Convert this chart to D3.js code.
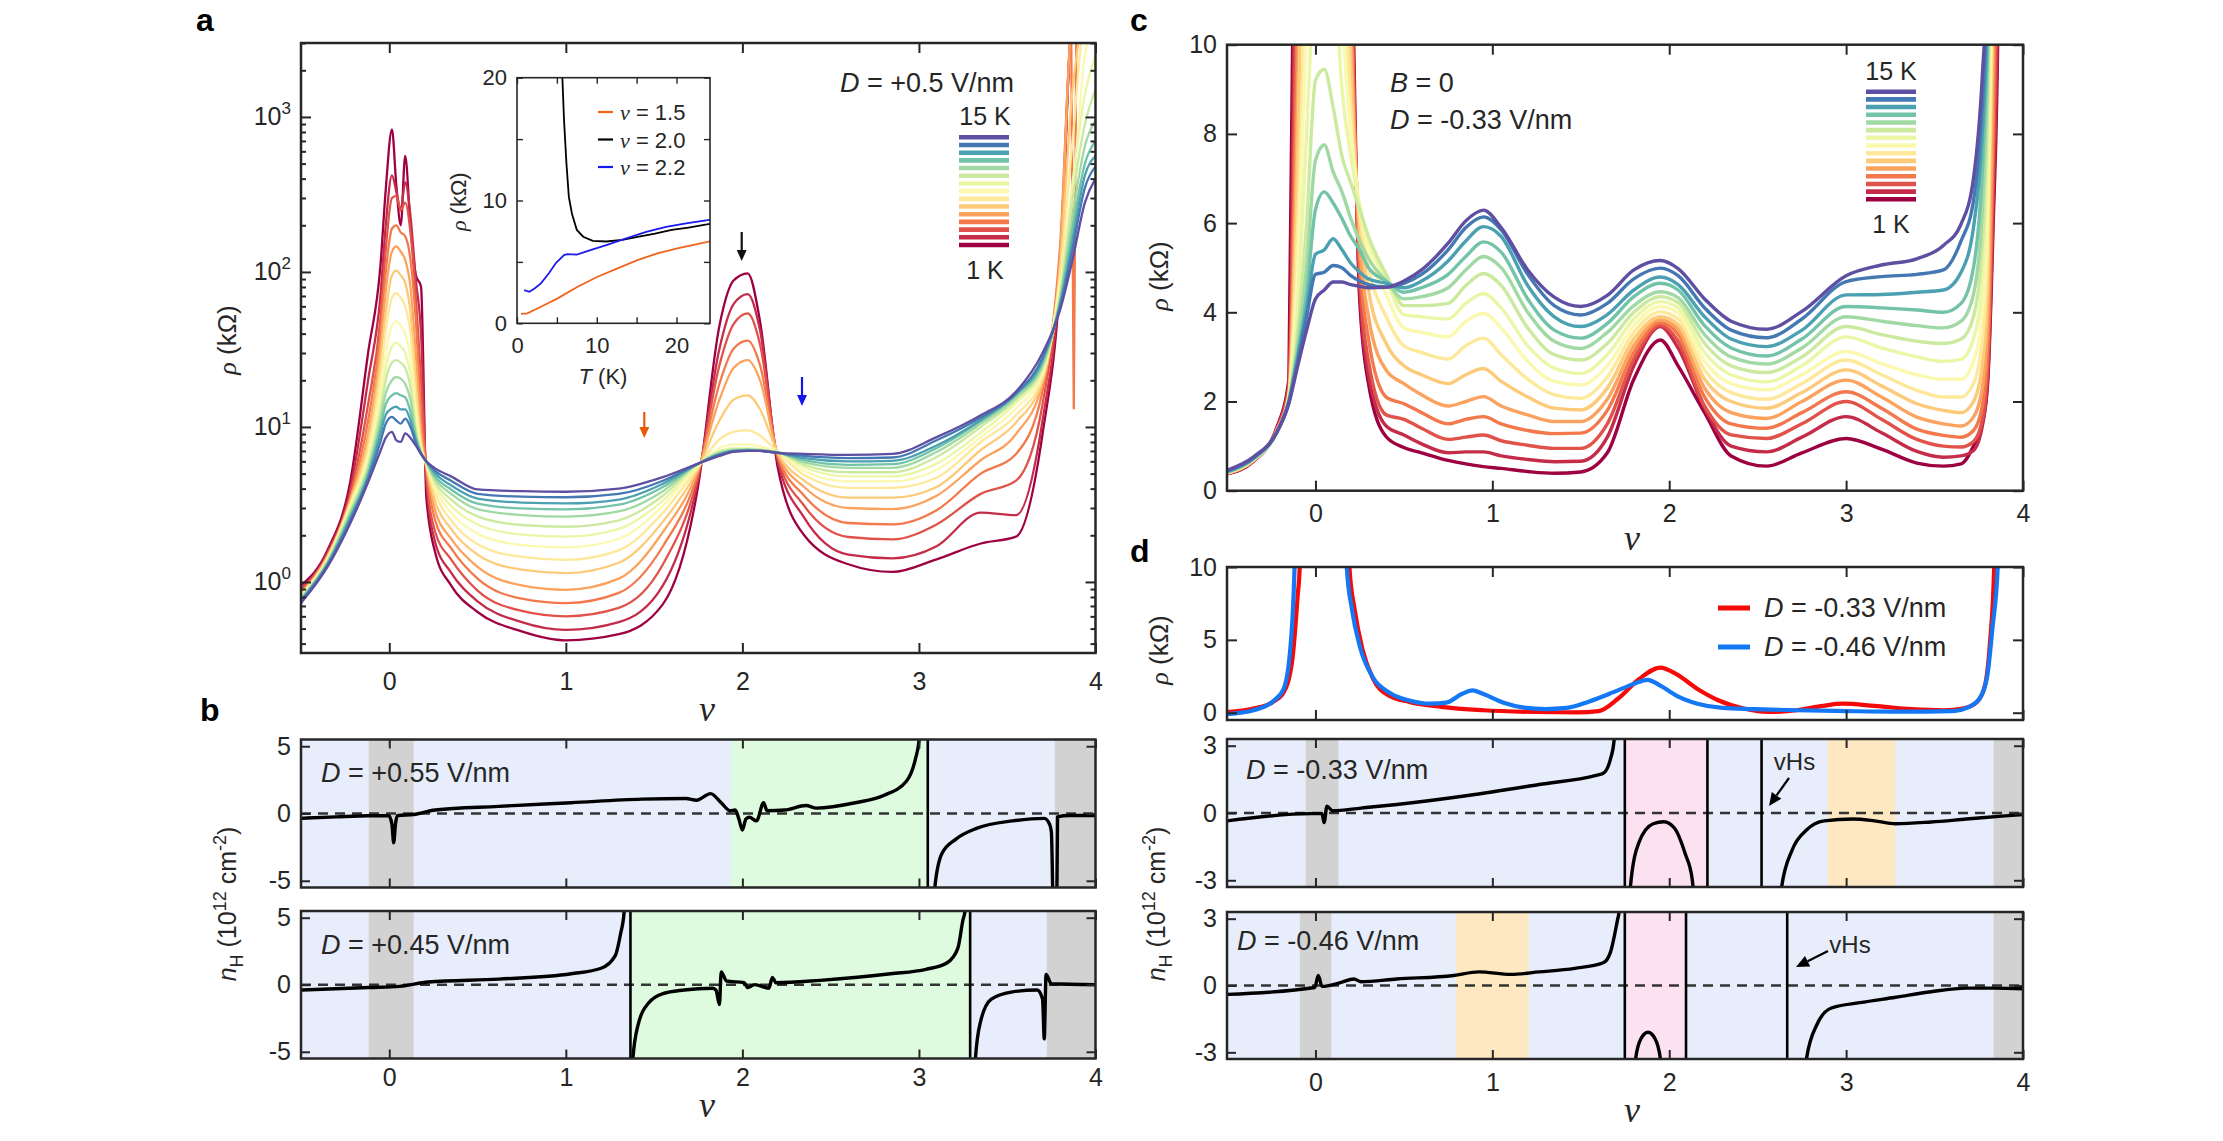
<!DOCTYPE html>
<html>
<head>
<meta charset="utf-8">
<script src="https://cdn.jsdelivr.net/npm/d3@7"></script>
<style>
  body { margin: 0; background: #fff; }
  svg text { font-family: "Liberation Sans", Arial, sans-serif; fill: #262626; }
</style>
</head>
<body>
<svg id="fig" width="2223" height="1141"></svg>
<script>
// ---------------- data ----------------
const tempsK = d3.range(1, 16);   // 1 K ... 15 K

// panel a : rho(nu) at D = +0.5 V/nm, one row per temperature (1 K first)
const nuA = [-0.5,-0.35,-0.22,-0.12,-0.05,-0.02,0.015,0.04,0.065,0.09,0.12,0.15,0.18,0.21,0.26,0.35,0.5,0.75,1.0,1.3,1.55,1.75,1.87,1.95,2.03,2.1,2.2,2.35,2.6,2.85,3.1,3.35,3.55,3.7,3.8,3.87,3.94,4.0];
const rhoA = [
  [0.95,1.6,4.5,30, 110,340,830,360,200,560,200,96,80,3.5, 1.55,0.95,0.64,0.48,0.42,0.46,0.72,4.2, 45,88,98,48,5.5, 2.0,1.3,1.16,1.4,1.77,1.96,9,90,4000,4000,4000],
  [0.9,1.55,4.0,20, 70,200,420,330,250,380,230,90,40,4.5, 1.8,1.15,0.75,0.55,0.49,0.55,0.95,4.6, 32,62,72,42,6, 2.6,1.5,1.42,1.7,2.8,2.7,11,100,4000,4000,4000],
  [0.88,1.5,3.7,14, 50,140,300,310,250,280,180,70,20,5.0, 2.1,1.4,0.88,0.65,0.6,0.68,1.3,4.9, 25,46,54,34,6.3, 3.1,1.95,1.88,2.35,3.7,4.5,14,120,4000,4000,4000],
  [0.86,1.48,3.5,11, 40,100,190,200,180,170,120,50,12,5.3, 2.5,1.65,1.05,0.78,0.73,0.85,1.7,5.1, 19,32,36,25,6.5, 3.6,2.4,2.35,2.9,5.0,6.7,17,150,4000,4000,4000],
  [0.84,1.46,3.4,9.0, 32,75,135,146,135,120,80,30,9,5.5, 2.9,1.9,1.25,0.95,0.89,1.05,2.1,5.3, 15,24,27,20,6.7, 4.1,3.0,2.95,3.6,6.1,9.0,19,130,4000,4000,4000],
  [0.83,1.44,3.3,8.0, 26,55,95,102,95,85,55,20,8,5.6, 3.3,2.2,1.5,1.2,1.14,1.33,2.45,5.4, 11,15,16,13,6.8, 4.5,3.5,3.5,4.1,7.1,10.7,20,110,1500,4000,4000],
  [0.82,1.42,3.2,7.0, 21,42,68,73,68,60,40,15,7.5,5.7, 3.7,2.5,1.75,1.45,1.39,1.6,2.8,5.5, 8.3,9.3,9.5,8.8,6.9, 4.9,4.05,4.05,4.7,8.0,11.9,21,95,700,4000,4000],
  [0.81,1.4,3.1,6.5, 17,30,45,48,45,40,28,12,7.2,5.8, 4.0,2.8,2.05,1.73,1.67,1.9,3.1,5.6, 7.3,7.7,7.7,7.5,6.9, 5.2,4.45,4.45,5.3,8.6,13.2,22,85,300,2500,4000],
  [0.8,1.38,3.0,6.0, 14,24,33,35,33,30,22,10.5,7.0,5.8, 4.2,3.1,2.35,2.02,1.96,2.2,3.35,5.7, 7.0,7.3,7.3,7.2,6.9, 5.5,4.8,4.8,5.8,9.2,14.3,23,78,380,1400,2500],
  [0.79,1.36,2.9,5.6, 12.5,20,26,27,26,24,18,9.5,6.9,5.9, 4.4,3.4,2.65,2.33,2.27,2.5,3.6,5.8, 6.9,7.2,7.2,7.1,6.9, 5.7,5.1,5.1,6.4,10.0,15.0,24,72,300,900,1500],
  [0.78,1.34,2.8,5.3, 11,16.5,20,21,20.5,19,15,9,6.8,5.9, 4.6,3.7,2.95,2.7,2.64,2.85,3.85,5.8, 6.8,7.1,7.15,7.1,6.85, 5.9,5.45,5.45,6.9,10.5,15.5,25,68,230,650,960],
  [0.77,1.32,2.7,5.0, 10,14,16,16.5,16,15.5,12.5,8.5,6.8,6.0, 4.8,3.95,3.2,2.98,2.94,3.15,4.1,5.8, 6.7,7.0,7.1,7.05,6.85, 6.1,5.7,5.75,7.3,10.9,16.1,26,65,190,500,700],
  [0.76,1.3,2.6,4.8, 9,12,13.2,13.5,13,13,11,8.2,6.7,6.0, 5.0,4.2,3.45,3.25,3.21,3.4,4.3,5.8, 6.65,7.0,7.05,7.0,6.8, 6.3,6.0,6.05,7.6,11.1,16.3,27,62,160,420,560],
  [0.75,1.28,2.5,4.6, 8,10.5,11.6,11,10.5,11.3,10,7.9,6.7,6.0, 5.2,4.5,3.7,3.55,3.52,3.7,4.5,5.8, 6.6,6.95,7.0,7.0,6.8, 6.5,6.3,6.35,8.2,11.5,16.5,28,60,140,350,480],
  [0.73,1.25,2.4,4.4, 7.0,8.5,9.3,8.2,8.0,9.1,8.5,7.6,6.7,6.0, 5.4,4.8,3.95,3.85,3.82,4.0,4.75,5.8, 6.5,6.9,7.0,7.0,6.8, 6.7,6.6,6.7,8.6,11.9,16.9,30,57,120,280,400]
];
const spikeA = [[3.862,4000],[3.877,13],[3.892,4000]];   // narrow dip of the 4 K trace

// panel a inset : rho(T)
const insetNu15 = [[0.5,0.76],[1.3,0.81],[3.0,1.35],[5.1,2.03],[7.6,2.98],[10.1,3.79],[12.6,4.47],[15.1,5.15],[17.6,5.69],[20.1,6.1],[23.9,6.63],[24.2,6.68]];
const insetNu20 = [[5.6,21],[5.7,19.8],[5.9,16.5],[6.2,13.0],[6.5,10.3],[6.9,8.9],[7.5,7.6],[8.3,7.05],[9.5,6.72],[11.2,6.66],[13.2,6.8],[15.3,7.05],[17.3,7.3],[19.4,7.6],[21.5,7.8],[23.8,8.05],[24.2,8.1]];
const insetNu22 = [[0.9,2.7],[1.55,2.57],[2.2,2.84],[3.0,3.25],[4.0,4.07],[4.9,4.93],[5.9,5.55],[6.3,5.63],[7.5,5.6],[9.2,5.96],[11.2,6.37],[13.7,6.91],[16.2,7.45],[18.7,7.86],[21.2,8.13],[23.9,8.4],[24.2,8.45]];

// panel c : rho(nu) at B = 0, D = -0.33 V/nm
const nuC = [-0.5,-0.35,-0.22,-0.15,-0.1,-0.05,0.0,0.05,0.1,0.15,0.2,0.25,0.3,0.4,0.5,0.6,0.75,0.85,0.95,1.05,1.2,1.35,1.5,1.65,1.8,1.95,2.05,2.2,2.35,2.55,2.75,3.0,3.2,3.4,3.55,3.65,3.72,3.77,3.8,3.83,3.86,3.9,4.0];
const rhoC = [
  [0.38,0.66,1.4,2.5,22,30,30,30,30, 30,14,4.3,2.4,1.21, 0.97,0.85,0.68,0.6,0.54,0.5,0.43,0.39,0.42,0.85,2.5,3.38,2.8,1.75,0.78, 0.55,0.85,1.17,0.93,0.62,0.55,0.6,1.0,1.5,2.4,5.8,11,40,50],
  [0.38,0.67,1.38,2.4,18,30,30,30,30, 30,13,4.6,2.6,1.45, 1.25,1.05,0.85,0.87,0.87,0.78,0.7,0.65,0.66,1.2,2.8,3.68,3.2,1.85,1.0, 0.87,1.2,1.66,1.3,0.88,0.75,0.78,0.9,1.45,2.5,6.2,12,40,50],
  [0.39,0.68,1.36,2.3,14,30,30,30,30, 28,12.5,4.9,2.9,1.7, 1.6,1.4,1.15,1.2,1.25,1.12,1.02,0.95,0.95,1.5,2.95,3.71,3.35,1.9,1.25, 1.17,1.5,2.0,1.6,1.15,1.0,0.98,1.1,1.6,2.8,7,14,40,50],
  [0.39,0.68,1.34,2.2,11,25,30,30,30, 26,11.5,5.2,3.4,2.1, 1.95,1.75,1.5,1.6,1.66,1.5,1.35,1.28,1.29,1.8,3.1,3.77,3.5,2.1,1.5, 1.4,1.75,2.22,1.85,1.38,1.24,1.2,1.35,1.9,3.2,8,16,40,50],
  [0.39,0.69,1.33,2.16,9,22,30,30,30, 22,10.5,5.6,3.9,2.7, 2.4,2.15,1.9,2.0,2.11,1.9,1.7,1.55,1.55,2.05,3.25,3.83,3.62,2.3,1.75, 1.62,2.0,2.48,2.1,1.65,1.5,1.45,1.65,2.3,3.8,9.5,20,40,50],
  [0.4,0.69,1.32,2.14,7.5,18,30,30,30, 18,9.5,6.0,4.5,3.3, 2.8,2.6,2.4,2.6,2.74,2.45,2.1,1.85,1.81,2.3,3.4,3.9,3.72,2.5,2.0, 1.85,2.2,2.71,2.35,1.95,1.8,1.75,2.0,2.8,4.6,11,21,40,50],
  [0.4,0.69,1.31,2.12,6.0,13,25,25,25, 14,8.5,6.2,5.0,3.9, 3.25,3.1,2.95,3.25,3.42,3.05,2.5,2.15,2.07,2.55,3.55,4.01,3.85,2.7,2.2, 2.05,2.4,2.93,2.6,2.25,2.1,2.1,2.4,3.4,5.5,12,22,40,50],
  [0.4,0.7,1.3,2.1,5.0,10.5,18,20,18, 11,8.0,6.4,5.4,4.4, 3.65,3.55,3.45,3.8,3.98,3.65,2.9,2.45,2.37,2.8,3.7,4.13,3.98,2.9,2.4, 2.26,2.6,3.12,2.85,2.6,2.5,2.5,2.9,4.0,6.5,13,24,40,50],
  [0.41,0.7,1.3,2.08,4.2,8.0,12,13,12, 9.0,7.5,6.4,5.6,4.7, 3.95,3.9,3.85,4.2,4.42,4.1,3.25,2.75,2.63,3.05,3.85,4.24,4.1,3.1,2.6, 2.44,2.8,3.45,3.2,3.0,2.9,2.95,3.4,4.7,7.5,14,26,40,50],
  [0.41,0.7,1.3,2.06,3.6,6.0,9.2,9.45,8.6, 7.5,6.9,6.3,5.7,4.85, 4.15,4.15,4.2,4.6,4.87,4.6,3.65,3.05,2.93,3.3,4.0,4.35,4.22,3.3,2.8, 2.65,3.0,3.68,3.5,3.35,3.3,3.4,3.9,5.5,8.5,15,28,40,50],
  [0.42,0.71,1.3,2.04,3.3,5.0,7.4,7.75,7.15, 6.7,6.1,5.6,5.2,4.7, 4.3,4.35,4.55,4.95,5.25,5.0,4.0,3.35,3.19,3.55,4.15,4.46,4.33,3.5,3.0, 2.84,3.2,3.9,3.8,3.7,3.65,3.8,4.4,6.3,9.4,16,30,40,50],
  [0.42,0.72,1.3,2.02,3.1,4.4,6.3,6.7,6.45, 6.1,5.7,5.4,5.0,4.7, 4.45,4.55,4.85,5.25,5.58,5.35,4.3,3.6,3.42,3.75,4.35,4.65,4.5,3.7,3.2, 3.02,3.4,4.13,4.1,4.05,4.0,4.2,5.0,7.2,10.2,17,30,40,50],
  [0.43,0.73,1.3,2.0,3.0,4.1,5.3,5.4,5.65, 5.4,5.1,4.9,4.75,4.65, 4.55,4.7,5.15,5.6,5.92,5.7,4.6,3.9,3.68,3.95,4.5,4.79,4.62,3.9,3.4, 3.23,3.6,4.39,4.4,4.45,4.5,4.9,5.9,8.0,10.8,18,30,40,50],
  [0.44,0.74,1.3,1.98,2.9,3.9,4.85,4.9,5.05, 5.0,4.82,4.7,4.62,4.57, 4.65,4.85,5.4,5.9,6.14,5.85,4.85,4.15,3.94,4.2,4.75,4.99,4.82,4.1,3.6, 3.43,3.85,4.69,4.8,4.85,4.95,5.6,6.5,8.7,11.5,19,30,40,50],
  [0.46,0.76,1.3,1.96,2.8,3.6,4.3,4.5,4.68, 4.68,4.62,4.58,4.55,4.56, 4.7,4.95,5.55,6.05,6.29,5.9,4.95,4.34,4.13,4.38,4.95,5.16,4.98,4.3,3.8, 3.62,4.02,4.82,5.06,5.2,5.5,5.98,7.0,9.3,12,20,30,40,50]
];

// panel d (top) : rho(nu) for two displacement fields
const rhoD033 = [[-0.5,0.05],[-0.35,0.29],[-0.24,0.74],[-0.18,1.39],[-0.13,3.7],[-0.1,8.1],[-0.089,10],[-0.075,40],[0.18,40],[0.192,10],[0.222,7.06],[0.266,4.33],[0.325,2.34],[0.414,1.18],[0.53,0.74],[0.71,0.4],[0.95,0.17],[1.24,0.05],[1.48,0.02],[1.6,0.11],[1.71,0.96],[1.83,2.31],[1.95,3.1],[2.04,2.65],[2.16,1.63],[2.28,0.84],[2.42,0.29],[2.57,0.05],[2.72,0.17],[2.87,0.47],[2.98,0.62],[3.16,0.47],[3.37,0.25],[3.55,0.17],[3.66,0.29],[3.74,0.74],[3.785,1.86],[3.813,4.75],[3.837,10],[3.85,40]];
const rhoD046 = [[-0.5,-0.1],[-0.35,0.17],[-0.24,0.78],[-0.18,1.63],[-0.148,3.66],[-0.118,10],[-0.1,40],[0.16,40],[0.177,10],[0.207,7.06],[0.251,4.54],[0.325,2.42],[0.414,1.41],[0.53,0.84],[0.65,0.62],[0.74,0.69],[0.83,1.3],[0.887,1.53],[0.946,1.3],[1.064,0.69],[1.18,0.35],[1.3,0.25],[1.42,0.33],[1.54,0.74],[1.685,1.41],[1.8,1.98],[1.877,2.26],[1.95,1.86],[2.04,1.18],[2.16,0.62],[2.3,0.33],[2.48,0.25],[2.72,0.17],[3.0,0.11],[3.3,0.07],[3.6,0.11],[3.695,0.4],[3.754,0.96],[3.798,2.53],[3.828,5.9],[3.857,10],[3.87,40]];

// Hall density n_H (10^12 cm^-2), each trace split where it diverges
const hallB055 = [
  [[-0.5,-0.36],[-0.3,-0.25],[-0.116,-0.17],[-0.003,-0.17],[0.015,-0.8],[0.025,-2.17],[0.035,-0.8],[0.045,-0.17],[0.138,-0.07],[0.26,0.26],[0.62,0.53],[1.03,0.8],[1.43,1.07],[1.68,1.12],[1.74,0.99],[1.82,1.48],[1.88,0.8],[1.93,0.21],[1.96,0.26],[1.98,-0.4],[2.0,-1.23],[2.02,-0.4],[2.04,-0.28],[2.08,-0.55],[2.12,0.8],[2.14,0.21],[2.24,0.26],[2.36,0.59],[2.42,0.4],[2.64,0.8],[2.8,1.34],[2.93,2.42],[2.98,4.05],[3.0,5.4],[3.01,8]],
  [[3.075,-8],[3.09,-5.5],[3.13,-2.98],[3.21,-1.9],[3.33,-1.09],[3.53,-0.55],[3.71,-0.36],[3.74,-0.8],[3.75,-1.36],[3.76,-8]],
  [[3.78,-8],[3.785,-0.25],[3.85,-0.15],[4.0,-0.15]]
];
const hallB045 = [
  [[-0.5,-0.39],[-0.116,-0.21],[0.06,-0.12],[0.22,0.2],[0.62,0.42],[1.03,0.82],[1.2,1.23],[1.28,2.17],[1.31,3.8],[1.33,5.42],[1.34,8]],
  [[1.37,-8],[1.38,-5.48],[1.41,-2.96],[1.47,-1.34],[1.55,-0.66],[1.67,-0.39],[1.83,-0.26],[1.85,-0.39],[1.87,-1.47],[1.88,0.96],[1.91,0.28],[2.01,0.15],[2.03,-0.21],[2.07,0.01],[2.15,-0.26],[2.17,0.55],[2.19,0.15],[2.44,0.33],[2.84,0.82],[3.04,1.15],[3.16,1.64],[3.22,2.71],[3.25,4.88],[3.26,5.42],[3.27,8]],
  [[3.31,-8],[3.32,-5.48],[3.35,-2.69],[3.41,-1.07],[3.53,-0.53],[3.67,-0.39],[3.7,-1.07],[3.71,-4.04],[3.72,0.77],[3.75,0.07],[4.0,0.01]]
];
const hallD033 = [
  [[-0.5,-0.35],[-0.024,-0.03],[0.037,-0.03],[0.049,-0.43],[0.065,0.3],[0.097,0.1],[0.258,0.22],[0.46,0.38],[0.862,0.78],[1.265,1.27],[1.587,1.68],[1.627,1.77],[1.668,2.41],[1.688,3.22],[1.7,5]],
  [[1.77,-5],[1.78,-3.33],[1.828,-1.33],[1.909,-0.48],[1.969,-0.39],[2.03,-0.68],[2.09,-1.81],[2.13,-2.95],[2.15,-5]],
  [[2.625,-5],[2.635,-3.33],[2.695,-1.65],[2.776,-0.76],[2.876,-0.35],[3.04,-0.27],[3.16,-0.35],[3.28,-0.48],[3.48,-0.4],[3.68,-0.27],[3.88,-0.14],[4.02,-0.06]]
];
const hallD046 = [
  [[-0.5,-0.4],[-0.004,-0.09],[0.016,0.45],[0.037,-0.04],[0.137,0.12],[0.218,0.29],[0.258,0.17],[0.46,0.29],[0.782,0.45],[0.923,0.61],[1.104,0.5],[1.265,0.61],[1.466,0.77],[1.627,1.02],[1.668,1.5],[1.708,2.96],[1.716,3.29],[1.72,5]],
  [[1.805,-5],[1.81,-3.29],[1.84,-2.39],[1.88,-2.1],[1.92,-2.39],[1.95,-3.29],[1.955,-5]],
  [[2.77,-5],[2.776,-3.29],[2.836,-1.74],[2.917,-1.01],[3.078,-0.77],[3.28,-0.53],[3.48,-0.28],[3.68,-0.12],[3.84,-0.12],[4.02,-0.15]]
];
// shaded nu ranges [from, to, kind] and boundary lines
const bandsB055 = [[-0.116,0.138,"gap"],[1.935,3.05,"green"],[3.77,4.0,"gap"]];
const bandsB045 = [[-0.116,0.138,"gap"],[1.37,3.29,"green"],[3.724,4.0,"gap"]];
const bandsD033 = [[-0.055,0.13,"gap"],[1.749,2.216,"pink"],[2.896,3.278,"orange"],[3.834,4.0,"gap"]];
const bandsD046 = [[-0.088,0.09,"gap"],[0.794,1.205,"orange"],[1.757,2.095,"pink"],[3.834,4.0,"gap"]];
const edgesB055 = [3.05];
const edgesB045 = [1.366, 3.29];
const edgesD033 = [1.749, 2.216, 2.522];
const edgesD046 = [1.749, 2.095, 2.667];

// ---------------- drawing ----------------
const ink = "#262626";
const bandFill = { base: "#e7edfa", gap: "#d2d2d2", green: "#defbdf", pink: "#fce2f0", orange: "#fde8c2" };
const tcol = i => d3.interpolateSpectral(i / 14);
const svg = d3.select("#fig");
const defs = svg.append("defs");
let clipN = 0;
function clipFor(x, y) {
  const id = "clip" + (clipN++);
  const [x0, x1] = x.range(), [y1, y0] = y.range();
  defs.append("clipPath").attr("id", id).append("rect")
    .attr("x", x0).attr("y", y0).attr("width", x1 - x0).attr("height", y1 - y0);
  return "url(#" + id + ")";
}

// frame with inward ticks on all four sides
function box(x, y, o) {
  const [x0, x1] = x.range(), [y1, y0] = y.range();
  const g = svg.append("g");
  const tl = o.tick || 10;
  const fmt = d3.format("d");
  g.append("g").attr("transform", `translate(0,${y1})`)
    .call(d3.axisBottom(x).tickValues(o.xt).tickSize(-tl).tickPadding(o.xpad || 14)
      .tickFormat(o.xlab ? (o.xfmt || fmt) : ""));
  g.append("g").attr("transform", `translate(0,${y0})`)
    .call(d3.axisTop(x).tickValues(o.xt).tickSize(-tl).tickFormat(""));
  g.append("g").attr("transform", `translate(${x0},0)`).attr("class", "yleft")
    .call(d3.axisLeft(y).tickValues(o.yt).tickSize(-tl).tickPadding(o.ypad || 10)
      .tickFormat(o.yfmt || (d => fmt(d).replace("−", "-"))));
  g.append("g").attr("transform", `translate(${x1},0)`)
    .call(d3.axisRight(y).tickValues(o.yt).tickSize(-tl).tickFormat(""));
  if (o.minor) {
    g.append("g").attr("transform", `translate(${x0},0)`)
      .call(d3.axisLeft(y).tickValues(o.minor).tickSize(-5).tickFormat(""));
    g.append("g").attr("transform", `translate(${x1},0)`)
      .call(d3.axisRight(y).tickValues(o.minor).tickSize(-5).tickFormat(""));
  }
  g.selectAll(".domain").remove();
  g.selectAll(".tick line").attr("stroke", ink).attr("stroke-width", o.tw || 2);
  g.selectAll(".tick text").attr("font-size", o.fs || 25);
  g.append("rect").attr("x", x0).attr("y", y0).attr("width", x1 - x0).attr("height", y1 - y0)
    .attr("fill", "none").attr("stroke", ink).attr("stroke-width", o.fw || 2.5);
  return g;
}

function label(x, y, parts, size, anchor, rotate) {
  const t = svg.append("text").attr("font-size", size).attr("text-anchor", anchor || "start")
    .attr("transform", `translate(${x},${y})` + (rotate ? " rotate(-90)" : ""));
  parts.forEach(p => {
    const s = t.append("tspan").text(p.t);
    if (p.i) s.attr("font-style", "italic");
    if (p.serif) s.attr("font-family", "Liberation Serif, serif").attr("font-style", "italic");
    if (p.dy) s.attr("dy", p.dy);
    if (p.fs) s.attr("font-size", p.fs);
    if (p.b) s.attr("font-weight", "bold").style("fill", "#000");
  });
  return t;
}
const rhoLabel = [{t: "ρ", serif: true}, {t: " (kΩ)"}];
const nuLabel = [{t: "ν", serif: true}];
function nuAxisLabel(x, y) { label(x, y, nuLabel, 36, "middle"); }

function arrow(x0, y0, x1, y1, color, head) {
  const a = Math.atan2(y1 - y0, x1 - x0), h = head || 11, w = h * 0.45;
  const bx = x1 - h * Math.cos(a), by = y1 - h * Math.sin(a);
  svg.append("line").attr("x1", x0).attr("y1", y0).attr("x2", bx).attr("y2", by)
    .attr("stroke", color).attr("stroke-width", 2.2);
  svg.append("path").attr("fill", color)
    .attr("d", `M${x1},${y1}L${bx - w * Math.sin(a)},${by + w * Math.cos(a)}L${bx + w * Math.sin(a)},${by - w * Math.cos(a)}Z`);
}

// ---------- panel a ----------
const xa = d3.scaleLinear().domain([-0.5, 4]).range([301, 1095.5]);
const ya = d3.scaleLog().domain([0.348, 3000]).range([653, 43]);
const gA = svg.append("g").attr("clip-path", clipFor(xa, ya));
const lineA = d3.line().x(d => xa(d[0])).y(d => ya(d[1])).curve(d3.curveMonotoneX);
rhoA.forEach((row, i) => {
  gA.append("path").attr("d", lineA(nuA.map((n, j) => [n, row[j]])))
    .attr("fill", "none").attr("stroke", tcol(i)).attr("stroke-width", 2.3);
  if (i === 3) gA.append("path").attr("d", d3.line().x(d => xa(d[0])).y(d => ya(d[1]))(spikeA))
    .attr("fill", "none").attr("stroke", tcol(i)).attr("stroke-width", 2.3);
});
const minorA = [];
[0.1, 1, 10, 100, 1000].forEach(dec => d3.range(2, 10).forEach(k => {
  const v = dec * k; if (v >= 0.348 && v <= 3000) minorA.push(v);
}));
const boxA = box(xa, ya, { xt: [0, 1, 2, 3, 4], yt: [1, 10, 100, 1000], minor: minorA, xlab: true, xpad: 19, ypad: 10, yfmt: () => "" });
boxA.select(".yleft").selectAll(".tick text").each(function (d) {
  const t = d3.select(this);
  t.append("tspan").text("10");
  t.append("tspan").attr("dy", -11).attr("font-size", 17).text(Math.round(Math.log10(d)));
});
nuAxisLabel(707, 721);
label(236, 340, rhoLabel, 26, "middle", true);
label(196, 31, [{t: "a", b: true}], 32);
label(840, 92, [{t: "D", i: true}, {t: " = +0.5 V/nm"}], 27);
// temperature key
const keyA = d3.scaleLinear().domain([15, 1]).range([137.3, 245]);
tempsK.forEach((T, i) => svg.append("line").attr("x1", 959).attr("x2", 1009)
  .attr("y1", keyA(T)).attr("y2", keyA(T)).attr("stroke", tcol(i)).attr("stroke-width", 4.6));
label(985, 125, [{t: "15 K"}], 25, "middle");
label(985, 279, [{t: "1 K"}], 25, "middle");
arrow(741.7, 232, 741.7, 261, "#111");
arrow(644.3, 412, 644.3, 438, "#e8590c");
arrow(802, 377, 802, 406, "#1515ee");

// inset
const xi = d3.scaleLinear().domain([0, 24.2]).range([517, 710]);
const yi = d3.scaleLinear().domain([0, 20]).range([323.3, 77.7]);
svg.append("rect").attr("x", 517).attr("y", 77.7).attr("width", 193).attr("height", 245.6).attr("fill", "#fff");
const gI = svg.append("g").attr("clip-path", clipFor(xi, yi));
const lineI = d3.line().x(d => xi(d[0])).y(d => yi(d[1]));
[[insetNu15, "#f0641e"], [insetNu20, "#000"], [insetNu22, "#1a1af0"]].forEach(([s, c]) =>
  gI.append("path").attr("d", lineI(s)).attr("fill", "none").attr("stroke", c).attr("stroke-width", 1.8));
const every10 = d => (d % 10 === 0 ? String(d) : "");
box(xi, yi, { xt: [0, 5, 10, 15, 20], yt: [0, 5, 10, 15, 20], xlab: true, xfmt: every10, yfmt: every10,
  xpad: 14, ypad: 10, tick: 6, fs: 22, fw: 1.6, tw: 1.4 });
label(603, 384, [{t: "T", i: true}, {t: " (K)"}], 22, "middle");
label(466, 201.7, rhoLabel, 22, "middle", true);
[["1.5", "#f0641e", 112], ["2.0", "#000", 139.5], ["2.2", "#1a1af0", 167]].forEach(([v, c, y]) => {
  svg.append("line").attr("x1", 598).attr("x2", 613).attr("y1", y).attr("y2", y).attr("stroke", c).attr("stroke-width", 2.2);
  label(620, y + 8, [{t: "ν", serif: true}, {t: " = " + v}], 22);
});

// ---------- hall panels ----------
function hall(x, y, traces, bands, edges, yt, xlab, xpad, text, tx, ty) {
  const [x0, x1] = x.range(), [y1, y0] = y.range();
  const g = svg.append("g").attr("clip-path", clipFor(x, y));
  g.append("rect").attr("x", x0).attr("y", y0).attr("width", x1 - x0).attr("height", y1 - y0).attr("fill", bandFill.base);
  bands.forEach(([a, b, k]) => g.append("rect").attr("x", x(a)).attr("y", y0)
    .attr("width", x(b) - x(a)).attr("height", y1 - y0).attr("fill", bandFill[k]));
  g.append("line").attr("x1", x0).attr("x2", x1).attr("y1", y(0)).attr("y2", y(0))
    .attr("stroke", "#333").attr("stroke-width", 2.4).attr("stroke-dasharray", "10,7");
  edges.forEach(e => g.append("line").attr("x1", x(e)).attr("x2", x(e)).attr("y1", y0).attr("y2", y1)
    .attr("stroke", "#000").attr("stroke-width", 2.6));
  const ln = d3.line().x(d => x(d[0])).y(d => y(d[1])).curve(d3.curveMonotoneX);
  traces.forEach(s => g.append("path").attr("d", ln(s)).attr("fill", "none")
    .attr("stroke", "#000").attr("stroke-width", 3.4).attr("stroke-linejoin", "round"));
  box(x, y, { xt: [0, 1, 2, 3, 4], yt: yt, xlab: xlab, xpad: xpad, ypad: 10, tick: 9 });
  label(tx, ty, [{t: "D", i: true}, {t: text}], 27);
}
const xb = d3.scaleLinear().domain([-0.5, 4]).range([301, 1095.5]);
const yb1 = d3.scaleLinear().domain([-5.5, 5.5]).range([887.5, 739.5]);
const yb2 = d3.scaleLinear().domain([-5.5, 5.5]).range([1058.5, 911]);
hall(xb, yb1, hallB055, bandsB055, edgesB055, [-5, 0, 5], false, 10, " = +0.55 V/nm", 321, 782);
hall(xb, yb2, hallB045, bandsB045, edgesB045, [-5, 0, 5], true, 10, " = +0.45 V/nm", 321, 953.5);
nuAxisLabel(707, 1117);
label(200, 721, [{t: "b", b: true}], 32);
const nHLabel = [{t: "n", i: true}, {t: "H", dy: 7, fs: 18}, {t: " (10", dy: -7}, {t: "12", dy: -10, fs: 18}, {t: " cm", dy: 10}, {t: "-2", dy: -10, fs: 18}, {t: ")", dy: 10}];
label(236, 904, nHLabel, 25, "middle", true);

// ---------- panel c ----------
const xc = d3.scaleLinear().domain([-0.5, 4]).range([1227, 2023]);
const yc = d3.scaleLinear().domain([0, 10]).range([490.7, 44.7]);
const gC = svg.append("g").attr("clip-path", clipFor(xc, yc));
const lineC = d3.line().x(d => xc(d[0])).y(d => yc(d[1])).curve(d3.curveMonotoneX);
rhoC.forEach((row, i) => gC.append("path").attr("d", lineC(nuC.map((n, j) => [n, row[j]])))
  .attr("fill", "none").attr("stroke", tcol(i)).attr("stroke-width", 3.4).attr("stroke-linejoin", "round"));
box(xc, yc, { xt: [0, 1, 2, 3, 4], yt: [0, 2, 4, 6, 8, 10], xlab: true, xpad: 14, ypad: 10 });
nuAxisLabel(1632, 550);
label(1168, 276, rhoLabel, 26, "middle", true);
label(1130, 31, [{t: "c", b: true}], 32);
label(1390, 92, [{t: "B", i: true}, {t: " = 0"}], 27);
label(1390, 128.5, [{t: "D", i: true}, {t: " = -0.33 V/nm"}], 27);
const keyC = d3.scaleLinear().domain([15, 1]).range([91.7, 199.3]);
tempsK.forEach((T, i) => svg.append("line").attr("x1", 1866).attr("x2", 1916)
  .attr("y1", keyC(T)).attr("y2", keyC(T)).attr("stroke", tcol(i)).attr("stroke-width", 4.6));
label(1891, 79.5, [{t: "15 K"}], 25, "middle");
label(1891, 233, [{t: "1 K"}], 25, "middle");

// ---------- panel d ----------
const yd0 = d3.scaleLinear().domain([-0.5, 10]).range([720, 567]);
const gD = svg.append("g").attr("clip-path", clipFor(xc, yd0));
const lineD = d3.line().x(d => xc(d[0])).y(d => yd0(d[1])).curve(d3.curveMonotoneX);
gD.append("path").attr("d", lineD(rhoD033)).attr("fill", "none").attr("stroke", "#f50a0a").attr("stroke-width", 4.2);
gD.append("path").attr("d", lineD(rhoD046)).attr("fill", "none").attr("stroke", "#1478f5").attr("stroke-width", 4.2);
box(xc, yd0, { xt: [0, 1, 2, 3, 4], yt: [0, 5, 10], xlab: false, ypad: 10 });
label(1168, 650, rhoLabel, 26, "middle", true);
label(1130, 562, [{t: "d", b: true}], 32);
[["#f50a0a", 608, " = -0.33 V/nm"], ["#1478f5", 647, " = -0.46 V/nm"]].forEach(([c, y, t]) => {
  svg.append("line").attr("x1", 1718).attr("x2", 1750).attr("y1", y).attr("y2", y).attr("stroke", c).attr("stroke-width", 5);
  label(1764, y + 9, [{t: "D", i: true}, {t: t}], 27);
});
const yd1 = d3.scaleLinear().domain([-3.3, 3.3]).range([887, 739]);
const yd2 = d3.scaleLinear().domain([-3.3, 3.3]).range([1059, 912]);
hall(xc, yd1, hallD033, bandsD033, edgesD033, [-3, 0, 3], false, 14, " = -0.33 V/nm", 1246, 779);
hall(xc, yd2, hallD046, bandsD046, edgesD046, [-3, 0, 3], true, 14.5, " = -0.46 V/nm", 1237, 950);
nuAxisLabel(1632, 1122);
label(1165, 904, nHLabel, 25, "middle", true);
label(1794.5, 770, [{t: "vHs"}], 24, "middle");
arrow(1789, 778, 1769, 806, "#000", 13);
label(1850, 953, [{t: "vHs"}], 24, "middle");
arrow(1828, 951, 1796, 967, "#000", 13);
</script>
</body>
</html>
